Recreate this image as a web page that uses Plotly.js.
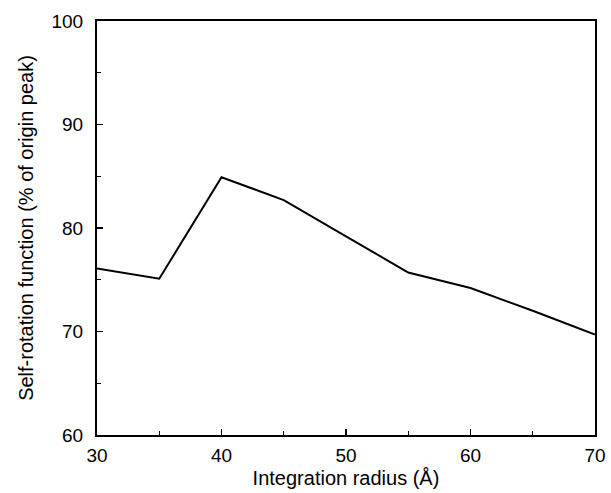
<!DOCTYPE html>
<html>
<head>
<meta charset="utf-8">
<script src="https://cdn.plot.ly/plotly-3.0.1.min.js"></script>
<style>html,body{margin:0;padding:0;background:#fff;}#chart{width:611px;height:493px;}</style>
</head>
<body>
<div id="chart"></div>
<script>
var radius = [30, 35, 40, 45, 50, 55, 60, 65, 70];
var selfRotation = [76.1, 75.1, 84.9, 82.7, 79.2, 75.7, 74.2, 72.0, 69.7];
var xTicks = [30, 40, 50, 60, 70];
var yTicks = [60, 70, 80, 90, 100];

var trace = {
  x: radius, y: selfRotation, mode: 'lines', type: 'scatter',
  line: {color: '#000', width: 2}, hoverinfo: 'skip'
};
var font = {family: 'Liberation Sans, Arial, sans-serif', color: '#000'};
var layout = {
  width: 611, height: 493,
  margin: {l: 97, r: 16, t: 21, b: 58},
  paper_bgcolor: '#fff', plot_bgcolor: '#fff',
  showlegend: false,
  font: font,
  xaxis: {
    range: [30, 70], tickvals: xTicks, ticktext: xTicks.map(String),
    ticks: 'inside', ticklen: 6, tickwidth: 1.5, tickcolor: '#000',
    minor: {dtick: 5, ticks: 'inside', ticklen: 4, tickwidth: 1.2, tickcolor: '#000'},
    showline: true, linecolor: '#000', linewidth: 2, mirror: true,
    showgrid: false, zeroline: false,
    tickfont: {family: font.family, size: 19, color: '#000'},
    ticklabelstandoff: 2,
    title: {text: 'Integration radius (Å)', font: {family: font.family, size: 20, color: '#000'}, standoff: 6}
  },
  yaxis: {
    range: [60, 100], tickvals: yTicks, ticktext: yTicks.map(String),
    ticks: 'inside', ticklen: 6, tickwidth: 1.5, tickcolor: '#000',
    minor: {dtick: 5, ticks: 'inside', ticklen: 4, tickwidth: 1.2, tickcolor: '#000'},
    showline: true, linecolor: '#000', linewidth: 2, mirror: true,
    showgrid: false, zeroline: false,
    tickfont: {family: font.family, size: 19, color: '#000'},
    ticklabelstandoff: 8,
    title: {text: 'Self-rotation function (% of origin peak)', font: {family: font.family, size: 20, color: '#000'}, standoff: 12}
  }
};
Plotly.newPlot('chart', [trace], layout, {displayModeBar: false, staticPlot: true});
</script>
</body>
</html>
